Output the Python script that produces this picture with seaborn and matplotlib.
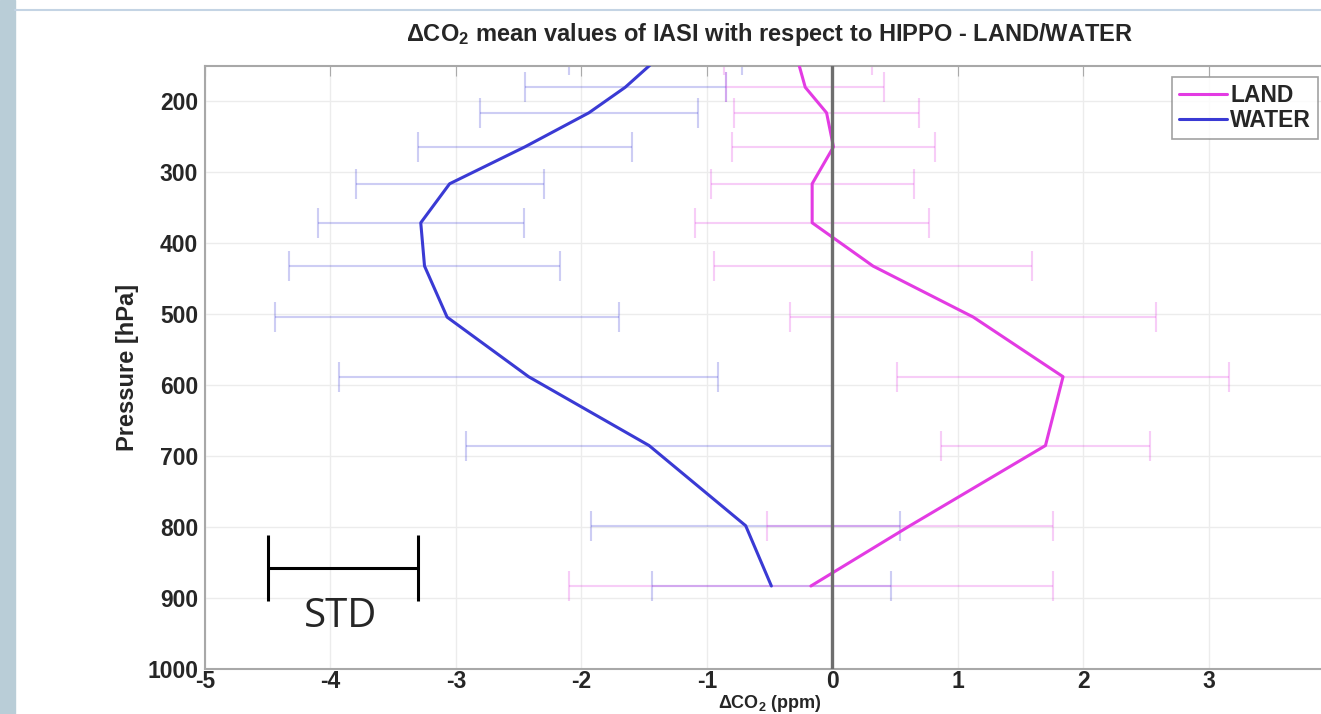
import matplotlib
matplotlib.use("Agg")
import matplotlib.pyplot as plt
import seaborn as sns
import pandas as pd
from matplotlib.lines import Line2D
from matplotlib.patches import Rectangle

# ================================
# Data
# ================================
pressure = [142, 180, 216, 264, 316, 371, 432, 504, 588, 685, 798, 883]

land_mean = [-0.275, -0.215, -0.045, 0.01, -0.16, -0.16, 0.325, 1.125, 1.84, 1.70, 0.62, -0.17]
land_std = [0.59, 0.63, 0.74, 0.81, 0.81, 0.93, 1.27, 1.46, 1.32, 0.83, 1.14, 1.93]

water_mean = [-1.41, -1.65, -1.94, -2.45, -3.05, -3.28, -3.25, -3.07, -2.42, -1.46, -0.69, -0.485]
water_std = [0.69, 0.80, 0.87, 0.85, 0.75, 0.82, 1.08, 1.37, 1.51, 1.46, 1.23, 0.955]

x_ticks = [-5, -4, -3, -2, -1, 0, 1, 2, 3]
y_ticks = [200, 300, 400, 500, 600, 700, 800, 900, 1000]

colors = {"LAND": "#e33be3", "WATER": "#3a3ad4"}

df = pd.DataFrame({
    "Pressure": pressure + pressure,
    "dCO2": land_mean + water_mean,
    "Surface": ["LAND"] * len(pressure) + ["WATER"] * len(pressure),
})

# ================================
# Style
# ================================
sns.set_style("white")
plt.rcParams["font.family"] = ["Liberation Sans", "DejaVu Sans"]
plt.rcParams["font.weight"] = "bold"
plt.rcParams["axes.unicode_minus"] = False
plt.rcParams["mathtext.fontset"] = "custom"
plt.rcParams["mathtext.rm"] = "Liberation Sans:bold"
plt.rcParams["mathtext.it"] = "Liberation Sans:bold"
plt.rcParams["mathtext.bf"] = "Liberation Sans:bold"
plt.rcParams["mathtext.default"] = "rm"

fig = plt.figure(figsize=(13.21, 7.14), dpi=100)
# page decoration of the original screenshot
fig.patches.append(Rectangle((0, 0), 15 / 1321, 1, transform=fig.transFigure,
                             color="#b9cdd7", zorder=0))
fig.lines.append(Line2D([15 / 1321, 1], [1 - 10 / 714] * 2, transform=fig.transFigure,
                        color="#c4d4e4", lw=1.5))

ax = fig.add_axes([205 / 1321, 45 / 714, 1129 / 1321, 603 / 714])

# ================================
# Error bars (STD) and mean profiles
# ================================
for name, mean, std in [("WATER", water_mean, water_std), ("LAND", land_mean, land_std)]:
    ax.errorbar(mean, pressure, xerr=std, fmt="none", ecolor=colors[name], alpha=0.25,
                elinewidth=1.5, capsize=11, capthick=1.5, zorder=1)

sns.lineplot(data=df, x="dCO2", y="Pressure", hue="Surface", palette=colors,
             orient="y", sort=False, estimator=None, linewidth=2.2, legend=False,
             ax=ax, zorder=3)

ax.axvline(0, color="#6e6e6e", lw=2.4, zorder=4)

# STD scale bar
ax.errorbar([-3.9], [858], xerr=[0.6], fmt="none", ecolor="black",
            elinewidth=2.2, capsize=24, capthick=2.2, zorder=5)
ax.text(-3.92, 927, "STD", fontsize=29, fontweight="normal",
        family=["Open Sans", "DejaVu Sans"], ha="center", va="center")

# ================================
# Axes
# ================================
ax.set_xlim(-5, 4)
ax.set_ylim(1000, 150)
ax.set_xticks(x_ticks)
ax.set_yticks(y_ticks)
ax.grid(True, color="#ececec", lw=1)
ax.tick_params(direction="in", length=7, color="#aaaaaa", top=True, right=True,
               labelsize=16.5)
ax.tick_params(axis="x", pad=1)
ax.tick_params(axis="y", pad=5)
for s in ax.spines.values():
    s.set_color("#a8a8a8")
    s.set_linewidth(1.5)

ax.set_title("ΔCO$_2$ mean values of IASI with respect to HIPPO - LAND/WATER",
             fontsize=17, fontweight="bold", pad=18)
ax.set_ylabel("Pressure [hPa]", fontsize=17, fontweight="bold", labelpad=6)
ax.set_xlabel("ΔCO$_2$ (ppm)", fontsize=13, fontweight="bold", labelpad=0)

handles = [Line2D([], [], color=colors["LAND"], lw=2.2),
           Line2D([], [], color=colors["WATER"], lw=2.2)]
leg = ax.legend(handles, ["LAND", "WATER"], loc="upper left",
                bbox_to_anchor=(1172 / 1321, 1 - 77 / 714), bbox_transform=fig.transFigure,
                frameon=True, fancybox=False, edgecolor="#8a8a8a",
                prop={"weight": "bold", "size": 16.5}, handlelength=2.1,
                handletextpad=0.15, borderpad=0.3, labelspacing=0.1, borderaxespad=0)
leg.get_frame().set_linewidth(1.2)

fig.savefig("out.png", dpi=100)
